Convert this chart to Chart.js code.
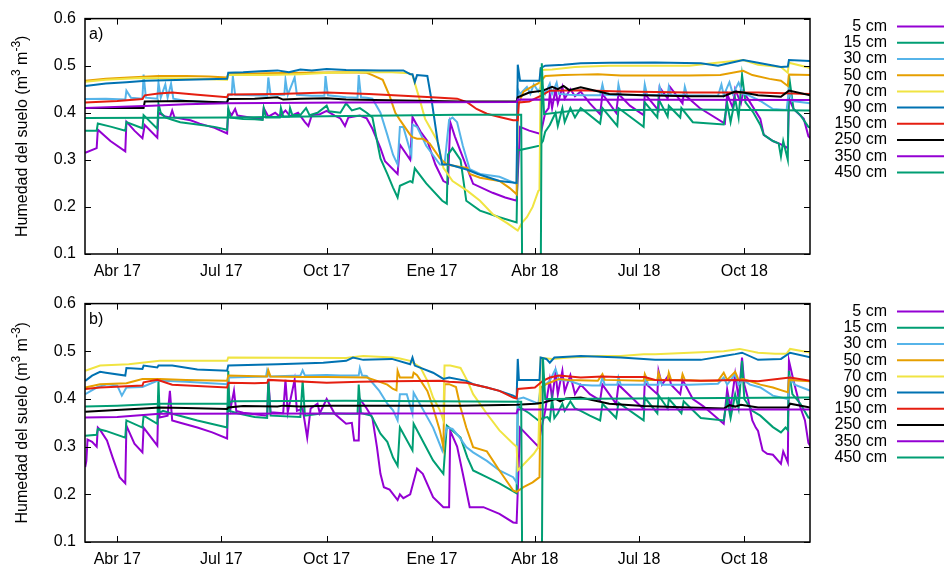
<!DOCTYPE html>
<html>
<head>
<meta charset="utf-8">
<script src="https://cdn.jsdelivr.net/npm/chart.js@4.4.1/dist/chart.umd.min.js"></script>
<style>
  html, body { margin: 0; padding: 0; background: #fff; }
  #wrap { position: relative; width: 944px; height: 570px; }
  #wrap canvas { position: absolute; left: 0; }
</style>
</head>
<body>
<div id="wrap">
  <canvas id="panelA" width="944" height="285" style="top:0"></canvas>
  <canvas id="panelB" width="944" height="285" style="top:285px"></canvas>
</div>
<script>
// Days are counted from 1 April 2017 (day 0).
const tickDays   = [0, 91, 183, 275, 365, 456, 548];
const tickLabels = ["Abr 17", "Jul 17", "Oct 17", "Ene 17", "Abr 18", "Jul 18", "Oct 18"];
const yTicks     = [0.1, 0.2, 0.3, 0.4, 0.5, 0.6];
const depthLabels = ["5 cm", "15 cm", "30 cm", "50 cm", "70 cm", "90 cm", "150 cm", "250 cm", "350 cm", "450 cm"];
const dayMin = -28.2, dayMax = 605.4;

// Panel a) soil moisture, [day, m3/m3]
const a5 = [[-28,.315],[-18,.325],[-17,.364],[-6,.34],[7,.318],[8,.381],[15,.362],[22,.346],[24,.374],[35,.347],[36,.40],[42,.392],[46,.39],[48,.405],[50,.39],[64,.384],[72,.377],[85,.368],[96,.356],[97,.405],[100,.395],[103,.408],[105,.394],[116,.39],[127,.386],[128,.41],[132,.392],[138,.40],[142,.392],[147,.405],[151,.393],[158,.40],[164,.38],[167,.372],[170,.395],[177,.397],[183,.404],[190,.394],[195,.388],[199,.372],[202,.39],[212,.394],[218,.388],[223,.366],[230,.325],[234,.297],[245,.27],[247,.332],[256,.30],[258,.391],[265,.36],[271,.34],[278,.29],[285,.255],[289,.25],[291,.38],[295,.35],[300,.318],[311,.249],[328,.23],[339,.22],[349,.213],[352,.37],[360,.362],[370,.355],[374,.40],[377,.41],[378,.44],[380,.41],[383,.45],[385,.42],[389,.455],[391,.43],[396,.45],[400,.435],[405,.445],[413,.42],[422,.397],[424,.44],[436,.40],[438,.44],[448,.415],[460,.395],[461,.44],[473,.405],[474,.454],[481,.43],[483,.455],[494,.42],[495,.44],[509,.41],[531,.377],[533,.44],[538,.41],[540,.45],[545,.42],[547,.445],[551,.43],[562,.387],[565,.353],[573,.34],[580,.333],[586,.325],[587,.43],[591,.408],[600,.387],[604,.35],[606,.345]];
const a15 = [[-28,.362],[-18,.362],[-17,.377],[-5,.37],[7,.362],[8,.38],[22,.367],[23,.395],[35,.366],[36,.419],[38,.40],[42,.39],[48,.385],[55,.38],[70,.375],[85,.37],[96,.364],[97,.41],[99,.39],[110,.387],[120,.386],[127,.385],[128,.41],[130,.39],[142,.39],[143,.41],[145,.392],[150,.392],[151,.41],[153,.395],[160,.395],[165,.41],[168,.395],[175,.40],[183,.415],[185,.403],[195,.40],[200,.42],[205,.405],[212,.41],[218,.40],[223,.39],[230,.303],[236,.27],[241,.241],[245,.22],[247,.245],[256,.255],[258,.252],[260,.282],[270,.25],[284,.213],[288,.207],[289,.311],[293,.325],[300,.30],[305,.213],[317,.192],[334,.178],[349,.167],[350,.32],[360,.325],[369,.33],[372,.34],[374,.36],[378,.374],[383,.40],[385,.372],[389,.41],[391,.38],[396,.41],[400,.39],[405,.41],[422,.377],[424,.41],[437,.372],[438,.41],[460,.37],[461,.422],[472,.39],[473,.429],[481,.392],[482,.415],[492,.39],[493,.41],[503,.38],[530,.375],[533,.42],[536,.38],[540,.43],[543,.39],[546,.48],[549,.422],[556,.40],[562,.374],[565,.353],[573,.34],[578,.335],[580,.307],[582,.34],[586,.30],[587,.48],[591,.408],[597,.395],[604,.37],[606,.368]];
const a30 = [[-28,.429],[-10,.43],[7,.428],[8,.447],[12,.432],[22,.43],[23,.481],[25,.432],[35,.43],[36,.464],[38,.432],[42,.46],[44,.432],[47,.462],[49,.43],[60,.425],[80,.423],[96,.422],[97,.438],[100,.438],[101,.478],[103,.438],[120,.437],[131,.436],[132,.475],[134,.438],[146,.438],[147,.47],[149,.438],[155,.475],[157,.438],[170,.436],[181,.436],[182,.478],[184,.437],[200,.433],[210,.432],[211,.48],[213,.433],[218,.432],[223,.43],[230,.40],[236,.353],[241,.311],[245,.29],[247,.37],[250,.37],[257,.31],[258,.375],[262,.37],[270,.33],[282,.29],[286,.29],[290,.385],[293,.39],[297,.38],[302,.33],[308,.28],[317,.27],[334,.264],[349,.249],[350,.45],[352,.44],[358,.455],[361,.44],[364,.46],[368,.445],[371,.46],[374,.44],[378,.462],[380,.44],[384,.464],[386,.44],[395,.438],[405,.437],[422,.437],[424,.46],[426,.438],[437,.437],[438,.46],[440,.438],[460,.437],[461,.46],[463,.438],[473,.437],[474,.455],[476,.438],[481,.437],[482,.455],[484,.437],[495,.437],[496,.455],[498,.437],[525,.436],[528,.46],[530,.437],[535,.465],[538,.44],[543,.464],[547,.44],[551,.438],[562,.425],[573,.408],[585,.406],[587,.45],[590,.425],[606,.42]];
const a50 = [[-28,.468],[-10,.472],[10,.475],[36,.478],[60,.478],[80,.477],[96,.475],[97,.482],[130,.484],[160,.485],[200,.486],[218,.485],[223,.48],[232,.47],[238,.436],[243,.40],[247,.385],[256,.353],[258,.348],[262,.345],[267,.345],[273,.335],[282,.303],[288,.29],[300,.285],[306,.283],[308,.27],[317,.262],[334,.255],[343,.24],[349,.227],[350,.415],[355,.445],[362,.455],[369,.464],[374,.478],[390,.48],[405,.481],[420,.482],[440,.479],[470,.479],[500,.479],[527,.48],[547,.489],[555,.48],[570,.472],[580,.468],[586,.457],[587,.481],[606,.48]];
const a70 = [[-28,.466],[-10,.47],[20,.474],[60,.473],[96,.47],[97,.48],[130,.48],[160,.482],[185,.485],[210,.486],[240,.486],[255,.484],[258,.48],[265,.422],[269,.387],[272,.374],[280,.339],[285,.283],[293,.255],[306,.234],[317,.213],[328,.185],[341,.165],[350,.15],[354,.167],[358,.178],[363,.20],[368,.234],[369,.236],[370,.491],[380,.492],[400,.497],[430,.5],[460,.5],[500,.5],[530,.508],[547,.512],[560,.502],[580,.497],[586,.485],[587,.506],[606,.495]];
const a90 = [[-28,.457],[-10,.462],[8,.465],[25,.468],[60,.47],[96,.472],[97,.485],[110,.486],[125,.488],[140,.49],[150,.486],[160,.492],[170,.49],[183,.493],[200,.491],[230,.49],[250,.49],[256,.482],[258,.482],[260,.465],[262,.48],[271,.478],[275,.422],[280,.339],[284,.29],[290,.29],[306,.279],[315,.27],[334,.255],[349,.251],[350,.502],[352,.468],[369,.468],[370,.495],[374,.5],[390,.502],[405,.505],[430,.506],[470,.507],[510,.505],[525,.5],[547,.512],[560,.506],[580,.497],[586,.498],[587,.512],[606,.51]];
const a150 = [[-28,.422],[0,.425],[22,.429],[24,.437],[36,.441],[48,.443],[70,.438],[96,.433],[97,.439],[140,.44],[183,.443],[220,.44],[250,.436],[275,.433],[297,.43],[306,.422],[314,.408],[323,.398],[334,.391],[346,.384],[350,.384],[351,.422],[360,.424],[370,.436],[378,.447],[405,.448],[440,.445],[500,.443],[560,.443],[606,.44]];
const a250 = [[-28,.41],[23,.41],[24,.424],[60,.425],[96,.422],[97,.429],[120,.43],[140,.433],[145,.428],[160,.43],[183,.431],[200,.428],[250,.426],[300,.424],[349,.424],[350,.433],[360,.443],[372,.447],[380,.455],[385,.45],[390,.457],[395,.448],[405,.454],[430,.44],[460,.437],[500,.435],[530,.435],[540,.445],[547,.443],[560,.437],[580,.434],[587,.447],[606,.437]];
const a350 = [[-28,.41],[30,.415],[60,.418],[96,.42],[200,.422],[349,.423],[350,.428],[606,.427]];
const a450 = [[-28,.389],[100,.39],[200,.393],[300,.396],[353,.396],[354,0],[370,0],[371,.505],[373,.397],[400,.405],[500,.407],[606,.405]];

// Panel b) soil moisture, [day, m3/m3]
const b5 = [[-28,.257],[-27,.27],[-26,.315],[-22,.31],[-18,.30],[-17,.34],[-15,.335],[-9,.313],[-4,.277],[0,.25],[2,.236],[7,.223],[8,.344],[15,.306],[22,.288],[23,.34],[35,.302],[36,.407],[37,.361],[44,.365],[46,.417],[48,.355],[55,.35],[70,.34],[83,.33],[96,.317],[97,.424],[99,.38],[102,.417],[104,.375],[110,.371],[120,.368],[131,.365],[132,.442],[134,.372],[145,.37],[147,.44],[149,.372],[155,.44],[157,.375],[162,.38],[166,.319],[169,.38],[175,.39],[177,.37],[183,.40],[190,.369],[200,.348],[205,.35],[207,.313],[211,.313],[212,.40],[218,.38],[223,.36],[227,.298],[230,.243],[233,.215],[238,.21],[245,.188],[247,.20],[250,.192],[256,.20],[262,.254],[267,.243],[276,.194],[285,.173],[290,.173],[291,.333],[297,.30],[302,.243],[308,.173],[320,.173],[334,.159],[346,.141],[349,.14],[352,.34],[360,.32],[368,.30],[370,.33],[374,.375],[376,.41],[378,.44],[380,.40],[383,.455],[385,.41],[389,.459],[391,.415],[396,.45],[400,.41],[405,.43],[413,.41],[422,.397],[424,.43],[436,.39],[438,.43],[460,.379],[461,.434],[472,.41],[473,.459],[476,.43],[482,.45],[484,.43],[492,.41],[494,.44],[503,.40],[512,.385],[530,.348],[533,.42],[536,.38],[540,.452],[543,.40],[546,.487],[548,.43],[551,.403],[555,.355],[558,.34],[560,.333],[564,.292],[568,.285],[573,.283],[580,.264],[582,.29],[586,.267],[587,.48],[591,.438],[597,.382],[601,.355],[604,.308],[606,.30]];
const b15 = [[-28,.323],[-18,.325],[-17,.337],[-10,.333],[7,.319],[8,.355],[22,.34],[23,.365],[35,.348],[36,.438],[37,.371],[40,.375],[48,.369],[70,.355],[96,.34],[97,.459],[98,.375],[105,.37],[120,.362],[131,.36],[132,.438],[134,.365],[160,.362],[162,.438],[164,.365],[180,.37],[200,.369],[210,.369],[211,.43],[213,.37],[222,.365],[230,.327],[236,.31],[241,.277],[245,.26],[247,.34],[258,.292],[259,.348],[276,.271],[285,.243],[288,.344],[300,.319],[306,.277],[311,.25],[323,.236],[334,.223],[349,.202],[350,.385],[360,.37],[368,.355],[372,.36],[376,.362],[378,.355],[380,.40],[382,.36],[385,.37],[389,.39],[391,.375],[396,.395],[400,.38],[405,.375],[413,.365],[422,.355],[424,.39],[436,.36],[438,.392],[460,.355],[461,.403],[472,.37],[473,.408],[481,.38],[482,.40],[493,.37],[495,.395],[510,.36],[530,.355],[533,.40],[536,.36],[540,.41],[543,.38],[546,.48],[548,.40],[555,.375],[562,.365],[573,.341],[580,.33],[584,.34],[586,.335],[587,.459],[590,.41],[597,.39],[604,.361],[606,.36]];
const b30 = [[-28,.41],[-18,.424],[-9,.431],[0,.428],[4,.407],[8,.424],[22,.425],[35,.438],[40,.438],[60,.436],[96,.431],[97,.445],[130,.447],[131,.46],[133,.447],[160,.449],[162,.46],[164,.449],[183,.45],[195,.449],[211,.449],[212,.465],[214,.449],[218,.448],[229,.417],[236,.39],[241,.376],[245,.355],[247,.41],[253,.41],[258,.369],[259,.413],[276,.34],[284,.292],[288,.34],[293,.337],[299,.32],[305,.299],[311,.288],[323,.27],[334,.25],[346,.236],[349,.225],[350,.40],[355,.403],[368,.39],[370,.424],[374,.43],[378,.438],[383,.463],[386,.44],[395,.438],[405,.43],[415,.428],[422,.428],[424,.445],[426,.43],[437,.43],[438,.445],[440,.43],[461,.43],[462,.445],[464,.43],[473,.43],[474,.445],[476,.43],[500,.43],[525,.432],[530,.445],[533,.43],[540,.452],[543,.43],[547,.44],[553,.43],[562,.424],[573,.407],[586,.40],[588,.445],[592,.43],[606,.417]];
const b50 = [[-28,.424],[-15,.431],[8,.433],[22,.442],[37,.442],[60,.44],[96,.438],[97,.449],[131,.447],[132,.46],[134,.447],[160,.446],[183,.446],[218,.445],[227,.438],[236,.43],[241,.421],[244,.418],[245,.459],[247,.445],[258,.445],[259,.455],[262,.45],[271,.417],[276,.382],[282,.333],[285,.299],[286,.431],[290,.431],[296,.425],[300,.382],[305,.34],[311,.299],[323,.29],[334,.25],[346,.208],[349,.205],[355,.215],[363,.225],[369,.236],[370,.424],[374,.43],[380,.436],[386,.442],[395,.44],[420,.438],[424,.452],[426,.44],[460,.438],[461,.452],[463,.44],[472,.44],[473,.455],[475,.44],[481,.44],[482,.455],[484,.44],[493,.44],[494,.452],[496,.44],[510,.438],[525,.438],[530,.455],[533,.44],[540,.457],[543,.44],[547,.442],[562,.43],[573,.424],[582,.417],[586,.414],[587,.44],[606,.437]];
const b70 = [[-28,.459],[-15,.47],[10,.473],[37,.48],[96,.48],[97,.487],[200,.486],[203,.487],[215,.49],[241,.487],[247,.485],[256,.48],[265,.466],[271,.438],[276,.403],[282,.376],[285,.355],[286,.47],[291,.47],[300,.465],[306,.438],[311,.41],[323,.369],[334,.334],[346,.306],[349,.30],[350,.25],[358,.27],[364,.285],[368,.299],[370,.486],[380,.484],[395,.487],[420,.49],[440,.49],[460,.494],[470,.494],[500,.497],[530,.5],[544,.505],[560,.497],[575,.495],[585,.495],[588,.505],[606,.497]];
const b90 = [[-28,.438],[-22,.449],[-15,.457],[-10,.455],[7,.449],[8,.465],[22,.463],[23,.47],[35,.466],[36,.47],[48,.47],[70,.462],[96,.459],[97,.47],[140,.473],[180,.476],[200,.48],[206,.487],[215,.482],[240,.484],[256,.473],[258,.487],[260,.47],[276,.455],[285,.442],[290,.445],[305,.438],[311,.431],[323,.424],[334,.417],[346,.407],[349,.403],[350,.484],[351,.44],[369,.44],[370,.487],[375,.484],[378,.476],[382,.487],[405,.49],[440,.487],[470,.482],[510,.482],[530,.49],[540,.494],[546,.497],[560,.482],[580,.484],[588,.497],[606,.487]];
const b150 = [[-28,.421],[-15,.424],[22,.428],[23,.435],[35,.44],[48,.43],[96,.424],[97,.434],[120,.433],[131,.434],[132,.44],[183,.434],[212,.436],[240,.437],[282,.438],[290,.436],[305,.434],[323,.424],[334,.417],[346,.403],[349,.401],[350,.421],[365,.424],[372,.438],[378,.445],[386,.449],[405,.445],[424,.447],[437,.446],[461,.446],[470,.44],[510,.438],[540,.44],[560,.437],[588,.445],[606,.438]];
const b250 = [[-28,.373],[23,.38],[37,.382],[60,.381],[96,.379],[97,.382],[110,.385],[140,.384],[145,.386],[160,.384],[183,.386],[200,.386],[250,.386],[300,.386],[349,.388],[365,.39],[372,.392],[383,.4],[387,.395],[392,.401],[405,.403],[430,.39],[460,.385],[500,.382],[530,.38],[535,.387],[540,.384],[545,.388],[560,.382],[586,.382],[588,.39],[606,.382]];
const b350 = [[-28,.361],[0,.362],[37,.369],[349,.37],[350,.378],[606,.378]];
const b450 = [[-28,.384],[0,.386],[37,.39],[96,.39],[100,.395],[200,.396],[353,.394],[354,0],[371,0],[372,.486],[374,.40],[606,.403]];

const palette = ["#9400d3", "#009e73", "#56b4e9", "#e69f00", "#f0e442", "#0072b2", "#e51e10", "#000000", "#9400d3", "#009e73"];
const FONT = '"Liberation Sans", Arial, Helvetica, sans-serif';
const FONT_SIZE = 16;

// Frame with inward ticks on all four sides, panel tag, axis title and the side legend.
const decor = {
  id: 'decor',
  afterDatasetsDraw(chart, args, opts) {
    const { ctx, chartArea: ca, scales: { x, y } } = chart;
    ctx.save();
    ctx.strokeStyle = '#000';
    ctx.lineWidth = 1.5;
    ctx.strokeRect(ca.left, ca.top, ca.right - ca.left, ca.bottom - ca.top);

    ctx.lineWidth = 1;
    ctx.beginPath();
    const L = 6;
    x.ticks.forEach(t => {
      const px = Math.round(x.getPixelForValue(t.value)) + 0.5;
      ctx.moveTo(px, ca.bottom); ctx.lineTo(px, ca.bottom - L);
      ctx.moveTo(px, ca.top);    ctx.lineTo(px, ca.top + L);
    });
    y.ticks.forEach(t => {
      const py = Math.round(y.getPixelForValue(t.value)) + 0.5;
      ctx.moveTo(ca.left, py);  ctx.lineTo(ca.left + L, py);
      ctx.moveTo(ca.right, py); ctx.lineTo(ca.right - L, py);
    });
    ctx.stroke();

    ctx.fillStyle = '#000';
    ctx.font = FONT_SIZE + 'px ' + FONT;
    ctx.textAlign = 'left';
    ctx.textBaseline = 'alphabetic';
    ctx.fillText(opts.tag, ca.left + 4, ca.top + 20);

    // rotated y title with superscripts
    const parts = [["Humedad del suelo (m", false], ["3", true], [" m", false], ["-3", true], [")", false]];
    const big = FONT_SIZE + 'px ' + FONT, small = '12px ' + FONT;
    let total = 0;
    parts.forEach(([s, sup]) => { ctx.font = sup ? small : big; total += ctx.measureText(s).width; });
    ctx.translate(opts.titleX, (ca.top + ca.bottom) / 2);
    ctx.rotate(-Math.PI / 2);
    ctx.textBaseline = 'middle';
    let cx = -total / 2;
    parts.forEach(([s, sup]) => {
      ctx.font = sup ? small : big;
      ctx.fillText(s, cx, sup ? -6 : 0);
      cx += ctx.measureText(s).width;
    });
    ctx.setTransform(1, 0, 0, 1, 0, 0);

    // legend on the right
    ctx.font = big;
    ctx.textAlign = 'right';
    ctx.textBaseline = 'middle';
    chart.data.datasets.forEach((ds, i) => {
      const ly = ca.top + 8 + 16.2 * i;
      ctx.fillStyle = '#000';
      ctx.fillText(ds.label, 887, ly);
      ctx.strokeStyle = ds.borderColor;
      ctx.lineWidth = 2;
      ctx.beginPath();
      ctx.moveTo(897, ly); ctx.lineTo(944, ly);
      ctx.stroke();
    });
    ctx.restore();
  }
};

function makePanel(id, series, tag, padTop, xAxisHeight) {
  return new Chart(document.getElementById(id), {
    type: 'line',
    data: {
      datasets: series.map((s, i) => ({
        label: depthLabels[i],
        data: s.map(([d, v]) => ({ x: d, y: v })),
        borderColor: palette[i],
        backgroundColor: palette[i],
        borderWidth: 2,
        pointRadius: 0,
        tension: 0,
        fill: false,
        order: series.length - 1 - i
      }))
    },
    options: {
      responsive: false,
      animation: false,
      events: [],
      layout: { padding: { top: padTop, right: 134, left: 0, bottom: 0 } },
      plugins: {
        legend: { display: false },
        tooltip: { enabled: false },
        decor: { tag: tag, titleX: 23 }
      },
      scales: {
        x: {
          type: 'linear', min: dayMin, max: dayMax,
          grid: { display: false, drawTicks: false },
          border: { display: false },
          afterBuildTicks: s => { s.ticks = tickDays.map(v => ({ value: v })); },
          afterFit: s => { s.height = xAxisHeight; },
          ticks: {
            autoSkip: false, maxRotation: 0, minRotation: 0, padding: 8, color: '#000',
            font: { family: FONT, size: FONT_SIZE },
            callback: v => tickLabels[tickDays.indexOf(v)]
          }
        },
        y: {
          type: 'linear', min: 0.1, max: 0.6,
          grid: { display: false, drawTicks: false },
          border: { display: false },
          afterBuildTicks: s => { s.ticks = yTicks.map(v => ({ value: v })); },
          afterFit: s => { s.width = 85; },
          ticks: {
            padding: 9, color: '#000',
            font: { family: FONT, size: FONT_SIZE },
            callback: v => Number(v).toFixed(1)
          }
        }
      }
    },
    plugins: [decor]
  });
}

makePanel('panelA', [a5, a15, a30, a50, a70, a90, a150, a250, a350, a450], 'a)', 15, 31);
makePanel('panelB', [b5, b15, b30, b50, b70, b90, b150, b250, b350, b450], 'b)', 18, 28);
</script>
</body>
</html>
